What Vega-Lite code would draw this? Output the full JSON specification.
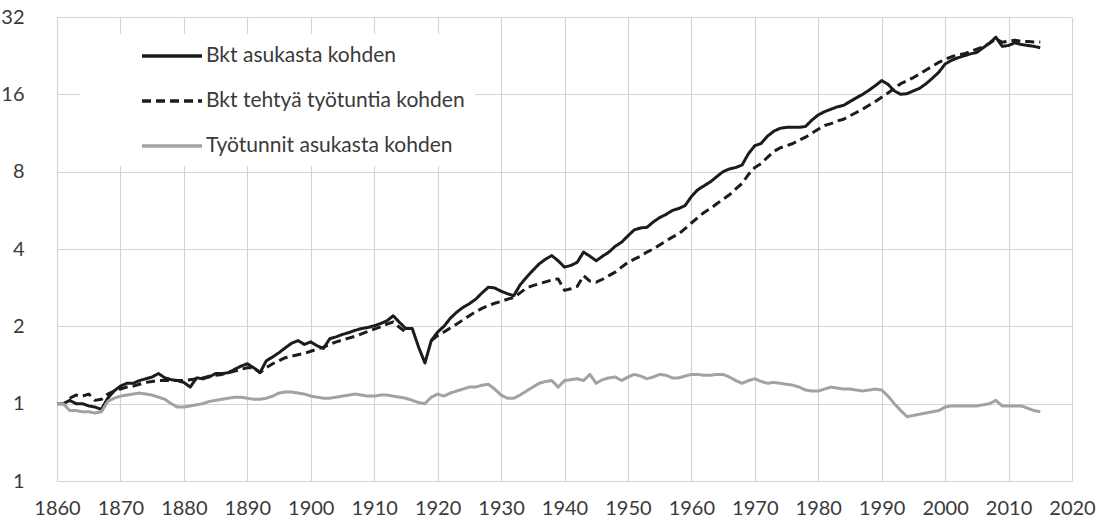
{
  "$schema": "https://vega.github.io/schema/vega-lite/v6.json",
  "autosize": "none",
  "width": 1015,
  "height": 464,
  "padding": {"left": 57, "top": 17, "right": 27, "bottom": 38},
  "background": "white",
  "config": {
    "view": {"stroke": null},
    "font": "Lato",
    "axis": {"gridColor": "#d4d4d4", "gridWidth": 1.2, "domain": false, "ticks": false, "labelColor": "#3a3a3a", "labelFontSize": 20, "labelFont": "Lato", "labelOverlap": false, "labelFlush": false}
  },
  "data": {"values": [
{"year":1860,"series":"Bkt asukasta kohden","value":1.0},
{"year":1861,"series":"Bkt asukasta kohden","value":1.0},
{"year":1862,"series":"Bkt asukasta kohden","value":1.03},
{"year":1863,"series":"Bkt asukasta kohden","value":1.0},
{"year":1864,"series":"Bkt asukasta kohden","value":1.0},
{"year":1865,"series":"Bkt asukasta kohden","value":0.98},
{"year":1866,"series":"Bkt asukasta kohden","value":0.97},
{"year":1867,"series":"Bkt asukasta kohden","value":0.95},
{"year":1868,"series":"Bkt asukasta kohden","value":1.05},
{"year":1869,"series":"Bkt asukasta kohden","value":1.12},
{"year":1870,"series":"Bkt asukasta kohden","value":1.17},
{"year":1871,"series":"Bkt asukasta kohden","value":1.2},
{"year":1872,"series":"Bkt asukasta kohden","value":1.2},
{"year":1873,"series":"Bkt asukasta kohden","value":1.23},
{"year":1874,"series":"Bkt asukasta kohden","value":1.25},
{"year":1875,"series":"Bkt asukasta kohden","value":1.27},
{"year":1876,"series":"Bkt asukasta kohden","value":1.31},
{"year":1877,"series":"Bkt asukasta kohden","value":1.26},
{"year":1878,"series":"Bkt asukasta kohden","value":1.24},
{"year":1879,"series":"Bkt asukasta kohden","value":1.23},
{"year":1880,"series":"Bkt asukasta kohden","value":1.21},
{"year":1881,"series":"Bkt asukasta kohden","value":1.16},
{"year":1882,"series":"Bkt asukasta kohden","value":1.26},
{"year":1883,"series":"Bkt asukasta kohden","value":1.25},
{"year":1884,"series":"Bkt asukasta kohden","value":1.27},
{"year":1885,"series":"Bkt asukasta kohden","value":1.31},
{"year":1886,"series":"Bkt asukasta kohden","value":1.31},
{"year":1887,"series":"Bkt asukasta kohden","value":1.32},
{"year":1888,"series":"Bkt asukasta kohden","value":1.36},
{"year":1889,"series":"Bkt asukasta kohden","value":1.4},
{"year":1890,"series":"Bkt asukasta kohden","value":1.43},
{"year":1891,"series":"Bkt asukasta kohden","value":1.38},
{"year":1892,"series":"Bkt asukasta kohden","value":1.32},
{"year":1893,"series":"Bkt asukasta kohden","value":1.47},
{"year":1894,"series":"Bkt asukasta kohden","value":1.52},
{"year":1895,"series":"Bkt asukasta kohden","value":1.58},
{"year":1896,"series":"Bkt asukasta kohden","value":1.65},
{"year":1897,"series":"Bkt asukasta kohden","value":1.72},
{"year":1898,"series":"Bkt asukasta kohden","value":1.76},
{"year":1899,"series":"Bkt asukasta kohden","value":1.7},
{"year":1900,"series":"Bkt asukasta kohden","value":1.74},
{"year":1901,"series":"Bkt asukasta kohden","value":1.68},
{"year":1902,"series":"Bkt asukasta kohden","value":1.64},
{"year":1903,"series":"Bkt asukasta kohden","value":1.79},
{"year":1904,"series":"Bkt asukasta kohden","value":1.82},
{"year":1905,"series":"Bkt asukasta kohden","value":1.86},
{"year":1906,"series":"Bkt asukasta kohden","value":1.89},
{"year":1907,"series":"Bkt asukasta kohden","value":1.93},
{"year":1908,"series":"Bkt asukasta kohden","value":1.96},
{"year":1909,"series":"Bkt asukasta kohden","value":1.98},
{"year":1910,"series":"Bkt asukasta kohden","value":2.01},
{"year":1911,"series":"Bkt asukasta kohden","value":2.05},
{"year":1912,"series":"Bkt asukasta kohden","value":2.1},
{"year":1913,"series":"Bkt asukasta kohden","value":2.2},
{"year":1914,"series":"Bkt asukasta kohden","value":2.07},
{"year":1915,"series":"Bkt asukasta kohden","value":1.96},
{"year":1916,"series":"Bkt asukasta kohden","value":1.96},
{"year":1917,"series":"Bkt asukasta kohden","value":1.66},
{"year":1918,"series":"Bkt asukasta kohden","value":1.44},
{"year":1919,"series":"Bkt asukasta kohden","value":1.76},
{"year":1920,"series":"Bkt asukasta kohden","value":1.9},
{"year":1921,"series":"Bkt asukasta kohden","value":2.0},
{"year":1922,"series":"Bkt asukasta kohden","value":2.15},
{"year":1923,"series":"Bkt asukasta kohden","value":2.27},
{"year":1924,"series":"Bkt asukasta kohden","value":2.37},
{"year":1925,"series":"Bkt asukasta kohden","value":2.45},
{"year":1926,"series":"Bkt asukasta kohden","value":2.55},
{"year":1927,"series":"Bkt asukasta kohden","value":2.7},
{"year":1928,"series":"Bkt asukasta kohden","value":2.84},
{"year":1929,"series":"Bkt asukasta kohden","value":2.82},
{"year":1930,"series":"Bkt asukasta kohden","value":2.74},
{"year":1931,"series":"Bkt asukasta kohden","value":2.68},
{"year":1932,"series":"Bkt asukasta kohden","value":2.63},
{"year":1933,"series":"Bkt asukasta kohden","value":2.9},
{"year":1934,"series":"Bkt asukasta kohden","value":3.1},
{"year":1935,"series":"Bkt asukasta kohden","value":3.3},
{"year":1936,"series":"Bkt asukasta kohden","value":3.5},
{"year":1937,"series":"Bkt asukasta kohden","value":3.65},
{"year":1938,"series":"Bkt asukasta kohden","value":3.77},
{"year":1939,"series":"Bkt asukasta kohden","value":3.6},
{"year":1940,"series":"Bkt asukasta kohden","value":3.4},
{"year":1941,"series":"Bkt asukasta kohden","value":3.45},
{"year":1942,"series":"Bkt asukasta kohden","value":3.55},
{"year":1943,"series":"Bkt asukasta kohden","value":3.89},
{"year":1944,"series":"Bkt asukasta kohden","value":3.75},
{"year":1945,"series":"Bkt asukasta kohden","value":3.6},
{"year":1946,"series":"Bkt asukasta kohden","value":3.75},
{"year":1947,"series":"Bkt asukasta kohden","value":3.89},
{"year":1948,"series":"Bkt asukasta kohden","value":4.1},
{"year":1949,"series":"Bkt asukasta kohden","value":4.25},
{"year":1950,"series":"Bkt asukasta kohden","value":4.5},
{"year":1951,"series":"Bkt asukasta kohden","value":4.75},
{"year":1952,"series":"Bkt asukasta kohden","value":4.83},
{"year":1953,"series":"Bkt asukasta kohden","value":4.86},
{"year":1954,"series":"Bkt asukasta kohden","value":5.1},
{"year":1955,"series":"Bkt asukasta kohden","value":5.3},
{"year":1956,"series":"Bkt asukasta kohden","value":5.45},
{"year":1957,"series":"Bkt asukasta kohden","value":5.65},
{"year":1958,"series":"Bkt asukasta kohden","value":5.75},
{"year":1959,"series":"Bkt asukasta kohden","value":5.9},
{"year":1960,"series":"Bkt asukasta kohden","value":6.4},
{"year":1961,"series":"Bkt asukasta kohden","value":6.8},
{"year":1962,"series":"Bkt asukasta kohden","value":7.05},
{"year":1963,"series":"Bkt asukasta kohden","value":7.3},
{"year":1964,"series":"Bkt asukasta kohden","value":7.65},
{"year":1965,"series":"Bkt asukasta kohden","value":8.0},
{"year":1966,"series":"Bkt asukasta kohden","value":8.2},
{"year":1967,"series":"Bkt asukasta kohden","value":8.3},
{"year":1968,"series":"Bkt asukasta kohden","value":8.5},
{"year":1969,"series":"Bkt asukasta kohden","value":9.4},
{"year":1970,"series":"Bkt asukasta kohden","value":10.1},
{"year":1971,"series":"Bkt asukasta kohden","value":10.3},
{"year":1972,"series":"Bkt asukasta kohden","value":11.0},
{"year":1973,"series":"Bkt asukasta kohden","value":11.5},
{"year":1974,"series":"Bkt asukasta kohden","value":11.8},
{"year":1975,"series":"Bkt asukasta kohden","value":11.9},
{"year":1976,"series":"Bkt asukasta kohden","value":11.9},
{"year":1977,"series":"Bkt asukasta kohden","value":11.9},
{"year":1978,"series":"Bkt asukasta kohden","value":12.0},
{"year":1979,"series":"Bkt asukasta kohden","value":12.7},
{"year":1980,"series":"Bkt asukasta kohden","value":13.3},
{"year":1981,"series":"Bkt asukasta kohden","value":13.7},
{"year":1982,"series":"Bkt asukasta kohden","value":14.0},
{"year":1983,"series":"Bkt asukasta kohden","value":14.3},
{"year":1984,"series":"Bkt asukasta kohden","value":14.5},
{"year":1985,"series":"Bkt asukasta kohden","value":15.0},
{"year":1986,"series":"Bkt asukasta kohden","value":15.5},
{"year":1987,"series":"Bkt asukasta kohden","value":16.0},
{"year":1988,"series":"Bkt asukasta kohden","value":16.6},
{"year":1989,"series":"Bkt asukasta kohden","value":17.3},
{"year":1990,"series":"Bkt asukasta kohden","value":18.1},
{"year":1991,"series":"Bkt asukasta kohden","value":17.5},
{"year":1992,"series":"Bkt asukasta kohden","value":16.5},
{"year":1993,"series":"Bkt asukasta kohden","value":16.0},
{"year":1994,"series":"Bkt asukasta kohden","value":16.1},
{"year":1995,"series":"Bkt asukasta kohden","value":16.5},
{"year":1996,"series":"Bkt asukasta kohden","value":16.9},
{"year":1997,"series":"Bkt asukasta kohden","value":17.6},
{"year":1998,"series":"Bkt asukasta kohden","value":18.5},
{"year":1999,"series":"Bkt asukasta kohden","value":19.5},
{"year":2000,"series":"Bkt asukasta kohden","value":21.0},
{"year":2001,"series":"Bkt asukasta kohden","value":21.7},
{"year":2002,"series":"Bkt asukasta kohden","value":22.2},
{"year":2003,"series":"Bkt asukasta kohden","value":22.6},
{"year":2004,"series":"Bkt asukasta kohden","value":23.0},
{"year":2005,"series":"Bkt asukasta kohden","value":23.3},
{"year":2006,"series":"Bkt asukasta kohden","value":24.3},
{"year":2007,"series":"Bkt asukasta kohden","value":25.3},
{"year":2008,"series":"Bkt asukasta kohden","value":26.7},
{"year":2009,"series":"Bkt asukasta kohden","value":24.6},
{"year":2010,"series":"Bkt asukasta kohden","value":24.8},
{"year":2011,"series":"Bkt asukasta kohden","value":25.4},
{"year":2012,"series":"Bkt asukasta kohden","value":25.0},
{"year":2013,"series":"Bkt asukasta kohden","value":24.8},
{"year":2014,"series":"Bkt asukasta kohden","value":24.6},
{"year":2015,"series":"Bkt asukasta kohden","value":24.3},
{"year":1862,"series":"Bkt tehtyä työtuntia kohden","value":1.05},
{"year":1863,"series":"Bkt tehtyä työtuntia kohden","value":1.08},
{"year":1864,"series":"Bkt tehtyä työtuntia kohden","value":1.07},
{"year":1865,"series":"Bkt tehtyä työtuntia kohden","value":1.09},
{"year":1866,"series":"Bkt tehtyä työtuntia kohden","value":1.03},
{"year":1867,"series":"Bkt tehtyä työtuntia kohden","value":1.04},
{"year":1868,"series":"Bkt tehtyä työtuntia kohden","value":1.09},
{"year":1869,"series":"Bkt tehtyä työtuntia kohden","value":1.12},
{"year":1870,"series":"Bkt tehtyä työtuntia kohden","value":1.14},
{"year":1871,"series":"Bkt tehtyä työtuntia kohden","value":1.16},
{"year":1872,"series":"Bkt tehtyä työtuntia kohden","value":1.17},
{"year":1873,"series":"Bkt tehtyä työtuntia kohden","value":1.19},
{"year":1874,"series":"Bkt tehtyä työtuntia kohden","value":1.21},
{"year":1875,"series":"Bkt tehtyä työtuntia kohden","value":1.22},
{"year":1876,"series":"Bkt tehtyä työtuntia kohden","value":1.23},
{"year":1877,"series":"Bkt tehtyä työtuntia kohden","value":1.23},
{"year":1878,"series":"Bkt tehtyä työtuntia kohden","value":1.23},
{"year":1879,"series":"Bkt tehtyä työtuntia kohden","value":1.23},
{"year":1880,"series":"Bkt tehtyä työtuntia kohden","value":1.23},
{"year":1881,"series":"Bkt tehtyä työtuntia kohden","value":1.24},
{"year":1882,"series":"Bkt tehtyä työtuntia kohden","value":1.25},
{"year":1883,"series":"Bkt tehtyä työtuntia kohden","value":1.26},
{"year":1884,"series":"Bkt tehtyä työtuntia kohden","value":1.28},
{"year":1885,"series":"Bkt tehtyä työtuntia kohden","value":1.29},
{"year":1886,"series":"Bkt tehtyä työtuntia kohden","value":1.3},
{"year":1887,"series":"Bkt tehtyä työtuntia kohden","value":1.32},
{"year":1888,"series":"Bkt tehtyä työtuntia kohden","value":1.34},
{"year":1889,"series":"Bkt tehtyä työtuntia kohden","value":1.36},
{"year":1890,"series":"Bkt tehtyä työtuntia kohden","value":1.38},
{"year":1891,"series":"Bkt tehtyä työtuntia kohden","value":1.38},
{"year":1892,"series":"Bkt tehtyä työtuntia kohden","value":1.32},
{"year":1893,"series":"Bkt tehtyä työtuntia kohden","value":1.38},
{"year":1894,"series":"Bkt tehtyä työtuntia kohden","value":1.43},
{"year":1895,"series":"Bkt tehtyä työtuntia kohden","value":1.47},
{"year":1896,"series":"Bkt tehtyä työtuntia kohden","value":1.51},
{"year":1897,"series":"Bkt tehtyä työtuntia kohden","value":1.53},
{"year":1898,"series":"Bkt tehtyä työtuntia kohden","value":1.55},
{"year":1899,"series":"Bkt tehtyä työtuntia kohden","value":1.57},
{"year":1900,"series":"Bkt tehtyä työtuntia kohden","value":1.6},
{"year":1901,"series":"Bkt tehtyä työtuntia kohden","value":1.63},
{"year":1902,"series":"Bkt tehtyä työtuntia kohden","value":1.66},
{"year":1903,"series":"Bkt tehtyä työtuntia kohden","value":1.7},
{"year":1904,"series":"Bkt tehtyä työtuntia kohden","value":1.74},
{"year":1905,"series":"Bkt tehtyä työtuntia kohden","value":1.77},
{"year":1906,"series":"Bkt tehtyä työtuntia kohden","value":1.8},
{"year":1907,"series":"Bkt tehtyä työtuntia kohden","value":1.83},
{"year":1908,"series":"Bkt tehtyä työtuntia kohden","value":1.87},
{"year":1909,"series":"Bkt tehtyä työtuntia kohden","value":1.91},
{"year":1910,"series":"Bkt tehtyä työtuntia kohden","value":1.95},
{"year":1911,"series":"Bkt tehtyä työtuntia kohden","value":1.99},
{"year":1912,"series":"Bkt tehtyä työtuntia kohden","value":2.04},
{"year":1913,"series":"Bkt tehtyä työtuntia kohden","value":2.08},
{"year":1914,"series":"Bkt tehtyä työtuntia kohden","value":1.98},
{"year":1915,"series":"Bkt tehtyä työtuntia kohden","value":1.9},
{"year":1916,"series":"Bkt tehtyä työtuntia kohden","value":null},
{"year":1917,"series":"Bkt tehtyä työtuntia kohden","value":null},
{"year":1918,"series":"Bkt tehtyä työtuntia kohden","value":null},
{"year":1919,"series":"Bkt tehtyä työtuntia kohden","value":1.76},
{"year":1920,"series":"Bkt tehtyä työtuntia kohden","value":1.84},
{"year":1921,"series":"Bkt tehtyä työtuntia kohden","value":1.9},
{"year":1922,"series":"Bkt tehtyä työtuntia kohden","value":1.97},
{"year":1923,"series":"Bkt tehtyä työtuntia kohden","value":2.04},
{"year":1924,"series":"Bkt tehtyä työtuntia kohden","value":2.12},
{"year":1925,"series":"Bkt tehtyä työtuntia kohden","value":2.2},
{"year":1926,"series":"Bkt tehtyä työtuntia kohden","value":2.28},
{"year":1927,"series":"Bkt tehtyä työtuntia kohden","value":2.35},
{"year":1928,"series":"Bkt tehtyä työtuntia kohden","value":2.41},
{"year":1929,"series":"Bkt tehtyä työtuntia kohden","value":2.46},
{"year":1930,"series":"Bkt tehtyä työtuntia kohden","value":2.5},
{"year":1931,"series":"Bkt tehtyä työtuntia kohden","value":2.55},
{"year":1932,"series":"Bkt tehtyä työtuntia kohden","value":2.59},
{"year":1933,"series":"Bkt tehtyä työtuntia kohden","value":2.7},
{"year":1934,"series":"Bkt tehtyä työtuntia kohden","value":2.82},
{"year":1935,"series":"Bkt tehtyä työtuntia kohden","value":2.88},
{"year":1936,"series":"Bkt tehtyä työtuntia kohden","value":2.93},
{"year":1937,"series":"Bkt tehtyä työtuntia kohden","value":2.98},
{"year":1938,"series":"Bkt tehtyä työtuntia kohden","value":3.03},
{"year":1939,"series":"Bkt tehtyä työtuntia kohden","value":3.06},
{"year":1940,"series":"Bkt tehtyä työtuntia kohden","value":2.76},
{"year":1941,"series":"Bkt tehtyä työtuntia kohden","value":2.8},
{"year":1942,"series":"Bkt tehtyä työtuntia kohden","value":2.86},
{"year":1943,"series":"Bkt tehtyä työtuntia kohden","value":3.15},
{"year":1944,"series":"Bkt tehtyä työtuntia kohden","value":3.0},
{"year":1945,"series":"Bkt tehtyä työtuntia kohden","value":2.97},
{"year":1946,"series":"Bkt tehtyä työtuntia kohden","value":3.05},
{"year":1947,"series":"Bkt tehtyä työtuntia kohden","value":3.15},
{"year":1948,"series":"Bkt tehtyä työtuntia kohden","value":3.25},
{"year":1949,"series":"Bkt tehtyä työtuntia kohden","value":3.4},
{"year":1950,"series":"Bkt tehtyä työtuntia kohden","value":3.55},
{"year":1951,"series":"Bkt tehtyä työtuntia kohden","value":3.65},
{"year":1952,"series":"Bkt tehtyä työtuntia kohden","value":3.75},
{"year":1953,"series":"Bkt tehtyä työtuntia kohden","value":3.89},
{"year":1954,"series":"Bkt tehtyä työtuntia kohden","value":4.0},
{"year":1955,"series":"Bkt tehtyä työtuntia kohden","value":4.15},
{"year":1956,"series":"Bkt tehtyä työtuntia kohden","value":4.3},
{"year":1957,"series":"Bkt tehtyä työtuntia kohden","value":4.45},
{"year":1958,"series":"Bkt tehtyä työtuntia kohden","value":4.58},
{"year":1959,"series":"Bkt tehtyä työtuntia kohden","value":4.8},
{"year":1960,"series":"Bkt tehtyä työtuntia kohden","value":5.05},
{"year":1961,"series":"Bkt tehtyä työtuntia kohden","value":5.3},
{"year":1962,"series":"Bkt tehtyä työtuntia kohden","value":5.55},
{"year":1963,"series":"Bkt tehtyä työtuntia kohden","value":5.75},
{"year":1964,"series":"Bkt tehtyä työtuntia kohden","value":6.0},
{"year":1965,"series":"Bkt tehtyä työtuntia kohden","value":6.25},
{"year":1966,"series":"Bkt tehtyä työtuntia kohden","value":6.5},
{"year":1967,"series":"Bkt tehtyä työtuntia kohden","value":6.85},
{"year":1968,"series":"Bkt tehtyä työtuntia kohden","value":7.2},
{"year":1969,"series":"Bkt tehtyä työtuntia kohden","value":7.8},
{"year":1970,"series":"Bkt tehtyä työtuntia kohden","value":8.3},
{"year":1971,"series":"Bkt tehtyä työtuntia kohden","value":8.6},
{"year":1972,"series":"Bkt tehtyä työtuntia kohden","value":9.1},
{"year":1973,"series":"Bkt tehtyä työtuntia kohden","value":9.6},
{"year":1974,"series":"Bkt tehtyä työtuntia kohden","value":9.9},
{"year":1975,"series":"Bkt tehtyä työtuntia kohden","value":10.1},
{"year":1976,"series":"Bkt tehtyä työtuntia kohden","value":10.3},
{"year":1977,"series":"Bkt tehtyä työtuntia kohden","value":10.6},
{"year":1978,"series":"Bkt tehtyä työtuntia kohden","value":10.9},
{"year":1979,"series":"Bkt tehtyä työtuntia kohden","value":11.3},
{"year":1980,"series":"Bkt tehtyä työtuntia kohden","value":11.7},
{"year":1981,"series":"Bkt tehtyä työtuntia kohden","value":12.1},
{"year":1982,"series":"Bkt tehtyä työtuntia kohden","value":12.3},
{"year":1983,"series":"Bkt tehtyä työtuntia kohden","value":12.6},
{"year":1984,"series":"Bkt tehtyä työtuntia kohden","value":12.8},
{"year":1985,"series":"Bkt tehtyä työtuntia kohden","value":13.2},
{"year":1986,"series":"Bkt tehtyä työtuntia kohden","value":13.6},
{"year":1987,"series":"Bkt tehtyä työtuntia kohden","value":14.0},
{"year":1988,"series":"Bkt tehtyä työtuntia kohden","value":14.5},
{"year":1989,"series":"Bkt tehtyä työtuntia kohden","value":15.0},
{"year":1990,"series":"Bkt tehtyä työtuntia kohden","value":15.6},
{"year":1991,"series":"Bkt tehtyä työtuntia kohden","value":16.2},
{"year":1992,"series":"Bkt tehtyä työtuntia kohden","value":16.9},
{"year":1993,"series":"Bkt tehtyä työtuntia kohden","value":17.6},
{"year":1994,"series":"Bkt tehtyä työtuntia kohden","value":18.1},
{"year":1995,"series":"Bkt tehtyä työtuntia kohden","value":18.6},
{"year":1996,"series":"Bkt tehtyä työtuntia kohden","value":19.2},
{"year":1997,"series":"Bkt tehtyä työtuntia kohden","value":19.9},
{"year":1998,"series":"Bkt tehtyä työtuntia kohden","value":20.6},
{"year":1999,"series":"Bkt tehtyä työtuntia kohden","value":21.3},
{"year":2000,"series":"Bkt tehtyä työtuntia kohden","value":21.9},
{"year":2001,"series":"Bkt tehtyä työtuntia kohden","value":22.4},
{"year":2002,"series":"Bkt tehtyä työtuntia kohden","value":22.8},
{"year":2003,"series":"Bkt tehtyä työtuntia kohden","value":23.0},
{"year":2004,"series":"Bkt tehtyä työtuntia kohden","value":23.5},
{"year":2005,"series":"Bkt tehtyä työtuntia kohden","value":24.0},
{"year":2006,"series":"Bkt tehtyä työtuntia kohden","value":24.5},
{"year":2007,"series":"Bkt tehtyä työtuntia kohden","value":25.3},
{"year":2008,"series":"Bkt tehtyä työtuntia kohden","value":26.3},
{"year":2009,"series":"Bkt tehtyä työtuntia kohden","value":25.5},
{"year":2010,"series":"Bkt tehtyä työtuntia kohden","value":25.8},
{"year":2011,"series":"Bkt tehtyä työtuntia kohden","value":26.0},
{"year":2012,"series":"Bkt tehtyä työtuntia kohden","value":25.7},
{"year":2013,"series":"Bkt tehtyä työtuntia kohden","value":25.7},
{"year":2014,"series":"Bkt tehtyä työtuntia kohden","value":25.6},
{"year":2015,"series":"Bkt tehtyä työtuntia kohden","value":25.6},
{"year":1860,"series":"Työtunnit asukasta kohden","value":1.0},
{"year":1861,"series":"Työtunnit asukasta kohden","value":1.0},
{"year":1862,"series":"Työtunnit asukasta kohden","value":0.94},
{"year":1863,"series":"Työtunnit asukasta kohden","value":0.94},
{"year":1864,"series":"Työtunnit asukasta kohden","value":0.93},
{"year":1865,"series":"Työtunnit asukasta kohden","value":0.93},
{"year":1866,"series":"Työtunnit asukasta kohden","value":0.92},
{"year":1867,"series":"Työtunnit asukasta kohden","value":0.93},
{"year":1868,"series":"Työtunnit asukasta kohden","value":1.02},
{"year":1869,"series":"Työtunnit asukasta kohden","value":1.05},
{"year":1870,"series":"Työtunnit asukasta kohden","value":1.07},
{"year":1871,"series":"Työtunnit asukasta kohden","value":1.08},
{"year":1872,"series":"Työtunnit asukasta kohden","value":1.09},
{"year":1873,"series":"Työtunnit asukasta kohden","value":1.1},
{"year":1874,"series":"Työtunnit asukasta kohden","value":1.09},
{"year":1875,"series":"Työtunnit asukasta kohden","value":1.08},
{"year":1876,"series":"Työtunnit asukasta kohden","value":1.06},
{"year":1877,"series":"Työtunnit asukasta kohden","value":1.04},
{"year":1878,"series":"Työtunnit asukasta kohden","value":1.0},
{"year":1879,"series":"Työtunnit asukasta kohden","value":0.97},
{"year":1880,"series":"Työtunnit asukasta kohden","value":0.97},
{"year":1881,"series":"Työtunnit asukasta kohden","value":0.98},
{"year":1882,"series":"Työtunnit asukasta kohden","value":0.99},
{"year":1883,"series":"Työtunnit asukasta kohden","value":1.0},
{"year":1884,"series":"Työtunnit asukasta kohden","value":1.02},
{"year":1885,"series":"Työtunnit asukasta kohden","value":1.03},
{"year":1886,"series":"Työtunnit asukasta kohden","value":1.04},
{"year":1887,"series":"Työtunnit asukasta kohden","value":1.05},
{"year":1888,"series":"Työtunnit asukasta kohden","value":1.06},
{"year":1889,"series":"Työtunnit asukasta kohden","value":1.06},
{"year":1890,"series":"Työtunnit asukasta kohden","value":1.05},
{"year":1891,"series":"Työtunnit asukasta kohden","value":1.04},
{"year":1892,"series":"Työtunnit asukasta kohden","value":1.04},
{"year":1893,"series":"Työtunnit asukasta kohden","value":1.05},
{"year":1894,"series":"Työtunnit asukasta kohden","value":1.07},
{"year":1895,"series":"Työtunnit asukasta kohden","value":1.1},
{"year":1896,"series":"Työtunnit asukasta kohden","value":1.11},
{"year":1897,"series":"Työtunnit asukasta kohden","value":1.11},
{"year":1898,"series":"Työtunnit asukasta kohden","value":1.1},
{"year":1899,"series":"Työtunnit asukasta kohden","value":1.09},
{"year":1900,"series":"Työtunnit asukasta kohden","value":1.07},
{"year":1901,"series":"Työtunnit asukasta kohden","value":1.06},
{"year":1902,"series":"Työtunnit asukasta kohden","value":1.05},
{"year":1903,"series":"Työtunnit asukasta kohden","value":1.05},
{"year":1904,"series":"Työtunnit asukasta kohden","value":1.06},
{"year":1905,"series":"Työtunnit asukasta kohden","value":1.07},
{"year":1906,"series":"Työtunnit asukasta kohden","value":1.08},
{"year":1907,"series":"Työtunnit asukasta kohden","value":1.09},
{"year":1908,"series":"Työtunnit asukasta kohden","value":1.08},
{"year":1909,"series":"Työtunnit asukasta kohden","value":1.07},
{"year":1910,"series":"Työtunnit asukasta kohden","value":1.07},
{"year":1911,"series":"Työtunnit asukasta kohden","value":1.08},
{"year":1912,"series":"Työtunnit asukasta kohden","value":1.08},
{"year":1913,"series":"Työtunnit asukasta kohden","value":1.07},
{"year":1914,"series":"Työtunnit asukasta kohden","value":1.06},
{"year":1915,"series":"Työtunnit asukasta kohden","value":1.05},
{"year":1916,"series":"Työtunnit asukasta kohden","value":1.03},
{"year":1917,"series":"Työtunnit asukasta kohden","value":1.01},
{"year":1918,"series":"Työtunnit asukasta kohden","value":1.0},
{"year":1919,"series":"Työtunnit asukasta kohden","value":1.06},
{"year":1920,"series":"Työtunnit asukasta kohden","value":1.09},
{"year":1921,"series":"Työtunnit asukasta kohden","value":1.07},
{"year":1922,"series":"Työtunnit asukasta kohden","value":1.1},
{"year":1923,"series":"Työtunnit asukasta kohden","value":1.12},
{"year":1924,"series":"Työtunnit asukasta kohden","value":1.14},
{"year":1925,"series":"Työtunnit asukasta kohden","value":1.16},
{"year":1926,"series":"Työtunnit asukasta kohden","value":1.16},
{"year":1927,"series":"Työtunnit asukasta kohden","value":1.18},
{"year":1928,"series":"Työtunnit asukasta kohden","value":1.19},
{"year":1929,"series":"Työtunnit asukasta kohden","value":1.14},
{"year":1930,"series":"Työtunnit asukasta kohden","value":1.08},
{"year":1931,"series":"Työtunnit asukasta kohden","value":1.05},
{"year":1932,"series":"Työtunnit asukasta kohden","value":1.05},
{"year":1933,"series":"Työtunnit asukasta kohden","value":1.08},
{"year":1934,"series":"Työtunnit asukasta kohden","value":1.12},
{"year":1935,"series":"Työtunnit asukasta kohden","value":1.16},
{"year":1936,"series":"Työtunnit asukasta kohden","value":1.2},
{"year":1937,"series":"Työtunnit asukasta kohden","value":1.22},
{"year":1938,"series":"Työtunnit asukasta kohden","value":1.23},
{"year":1939,"series":"Työtunnit asukasta kohden","value":1.16},
{"year":1940,"series":"Työtunnit asukasta kohden","value":1.23},
{"year":1941,"series":"Työtunnit asukasta kohden","value":1.24},
{"year":1942,"series":"Työtunnit asukasta kohden","value":1.25},
{"year":1943,"series":"Työtunnit asukasta kohden","value":1.23},
{"year":1944,"series":"Työtunnit asukasta kohden","value":1.3},
{"year":1945,"series":"Työtunnit asukasta kohden","value":1.2},
{"year":1946,"series":"Työtunnit asukasta kohden","value":1.24},
{"year":1947,"series":"Työtunnit asukasta kohden","value":1.26},
{"year":1948,"series":"Työtunnit asukasta kohden","value":1.27},
{"year":1949,"series":"Työtunnit asukasta kohden","value":1.23},
{"year":1950,"series":"Työtunnit asukasta kohden","value":1.27},
{"year":1951,"series":"Työtunnit asukasta kohden","value":1.3},
{"year":1952,"series":"Työtunnit asukasta kohden","value":1.28},
{"year":1953,"series":"Työtunnit asukasta kohden","value":1.25},
{"year":1954,"series":"Työtunnit asukasta kohden","value":1.27},
{"year":1955,"series":"Työtunnit asukasta kohden","value":1.3},
{"year":1956,"series":"Työtunnit asukasta kohden","value":1.29},
{"year":1957,"series":"Työtunnit asukasta kohden","value":1.26},
{"year":1958,"series":"Työtunnit asukasta kohden","value":1.26},
{"year":1959,"series":"Työtunnit asukasta kohden","value":1.28},
{"year":1960,"series":"Työtunnit asukasta kohden","value":1.3},
{"year":1961,"series":"Työtunnit asukasta kohden","value":1.3},
{"year":1962,"series":"Työtunnit asukasta kohden","value":1.29},
{"year":1963,"series":"Työtunnit asukasta kohden","value":1.29},
{"year":1964,"series":"Työtunnit asukasta kohden","value":1.3},
{"year":1965,"series":"Työtunnit asukasta kohden","value":1.3},
{"year":1966,"series":"Työtunnit asukasta kohden","value":1.27},
{"year":1967,"series":"Työtunnit asukasta kohden","value":1.23},
{"year":1968,"series":"Työtunnit asukasta kohden","value":1.2},
{"year":1969,"series":"Työtunnit asukasta kohden","value":1.23},
{"year":1970,"series":"Työtunnit asukasta kohden","value":1.25},
{"year":1971,"series":"Työtunnit asukasta kohden","value":1.22},
{"year":1972,"series":"Työtunnit asukasta kohden","value":1.2},
{"year":1973,"series":"Työtunnit asukasta kohden","value":1.21},
{"year":1974,"series":"Työtunnit asukasta kohden","value":1.2},
{"year":1975,"series":"Työtunnit asukasta kohden","value":1.19},
{"year":1976,"series":"Työtunnit asukasta kohden","value":1.18},
{"year":1977,"series":"Työtunnit asukasta kohden","value":1.16},
{"year":1978,"series":"Työtunnit asukasta kohden","value":1.13},
{"year":1979,"series":"Työtunnit asukasta kohden","value":1.12},
{"year":1980,"series":"Työtunnit asukasta kohden","value":1.12},
{"year":1981,"series":"Työtunnit asukasta kohden","value":1.14},
{"year":1982,"series":"Työtunnit asukasta kohden","value":1.16},
{"year":1983,"series":"Työtunnit asukasta kohden","value":1.15},
{"year":1984,"series":"Työtunnit asukasta kohden","value":1.14},
{"year":1985,"series":"Työtunnit asukasta kohden","value":1.14},
{"year":1986,"series":"Työtunnit asukasta kohden","value":1.13},
{"year":1987,"series":"Työtunnit asukasta kohden","value":1.12},
{"year":1988,"series":"Työtunnit asukasta kohden","value":1.13},
{"year":1989,"series":"Työtunnit asukasta kohden","value":1.14},
{"year":1990,"series":"Työtunnit asukasta kohden","value":1.13},
{"year":1991,"series":"Työtunnit asukasta kohden","value":1.07},
{"year":1992,"series":"Työtunnit asukasta kohden","value":1.0},
{"year":1993,"series":"Työtunnit asukasta kohden","value":0.94},
{"year":1994,"series":"Työtunnit asukasta kohden","value":0.89},
{"year":1995,"series":"Työtunnit asukasta kohden","value":0.9},
{"year":1996,"series":"Työtunnit asukasta kohden","value":0.91},
{"year":1997,"series":"Työtunnit asukasta kohden","value":0.92},
{"year":1998,"series":"Työtunnit asukasta kohden","value":0.93},
{"year":1999,"series":"Työtunnit asukasta kohden","value":0.94},
{"year":2000,"series":"Työtunnit asukasta kohden","value":0.97},
{"year":2001,"series":"Työtunnit asukasta kohden","value":0.98},
{"year":2002,"series":"Työtunnit asukasta kohden","value":0.98},
{"year":2003,"series":"Työtunnit asukasta kohden","value":0.98},
{"year":2004,"series":"Työtunnit asukasta kohden","value":0.98},
{"year":2005,"series":"Työtunnit asukasta kohden","value":0.98},
{"year":2006,"series":"Työtunnit asukasta kohden","value":0.99},
{"year":2007,"series":"Työtunnit asukasta kohden","value":1.0},
{"year":2008,"series":"Työtunnit asukasta kohden","value":1.03},
{"year":2009,"series":"Työtunnit asukasta kohden","value":0.98},
{"year":2010,"series":"Työtunnit asukasta kohden","value":0.98},
{"year":2011,"series":"Työtunnit asukasta kohden","value":0.98},
{"year":2012,"series":"Työtunnit asukasta kohden","value":0.98},
{"year":2013,"series":"Työtunnit asukasta kohden","value":0.96},
{"year":2014,"series":"Työtunnit asukasta kohden","value":0.94},
{"year":2015,"series":"Työtunnit asukasta kohden","value":0.93}
  ]},
  "mark": {"type": "line", "strokeWidth": 3, "invalid": "break-paths-show-domains", "strokeJoin": "round"},
  "encoding": {
    "x": {
      "field": "year", "type": "quantitative",
      "scale": {"domain": [1860, 2020], "nice": false, "zero": false},
      "axis": {"title": null, "values": [1860,1870,1880,1890,1900,1910,1920,1930,1940,1950,1960,1970,1980,1990,2000,2010,2020], "format": "d", "labelPadding": 17}
    },
    "y": {
      "field": "value", "type": "quantitative",
      "scale": {"type": "log", "base": 2, "domain": [0.5, 32], "nice": false},
      "axis": {"title": null, "values": [0.5,1,2,4,8,16,32], "labelExpr": "datum.value < 1 ? '1' : format(datum.value, 'd')", "labelPadding": 33}
    },
    "color": {
      "field": "series", "type": "nominal",
      "scale": {"domain": ["Bkt asukasta kohden", "Bkt tehtyä työtuntia kohden", "Työtunnit asukasta kohden"], "range": ["#1c1c1c", "#1c1c1c", "#a2a2a2"]},
      "legend": {"title": null, "orient": "none", "legendX": 23, "legendY": 17, "symbolType": "M-3,0H3", "symbolSize": 400, "symbolStrokeWidth": 3.5, "symbolOffset": 70, "labelOffset": 22, "labelFontSize": 21, "labelFont": "Lato", "labelColor": "#3a3a3a", "rowPadding": 23, "padding": 10, "fillColor": "white", "labelLimit": 400}
    },
    "strokeDash": {
      "field": "series", "type": "nominal",
      "scale": {"domain": ["Bkt asukasta kohden", "Bkt tehtyä työtuntia kohden", "Työtunnit asukasta kohden"], "range": [[1, 0], [9, 5], [1, 0]]}
    }
  }
}
